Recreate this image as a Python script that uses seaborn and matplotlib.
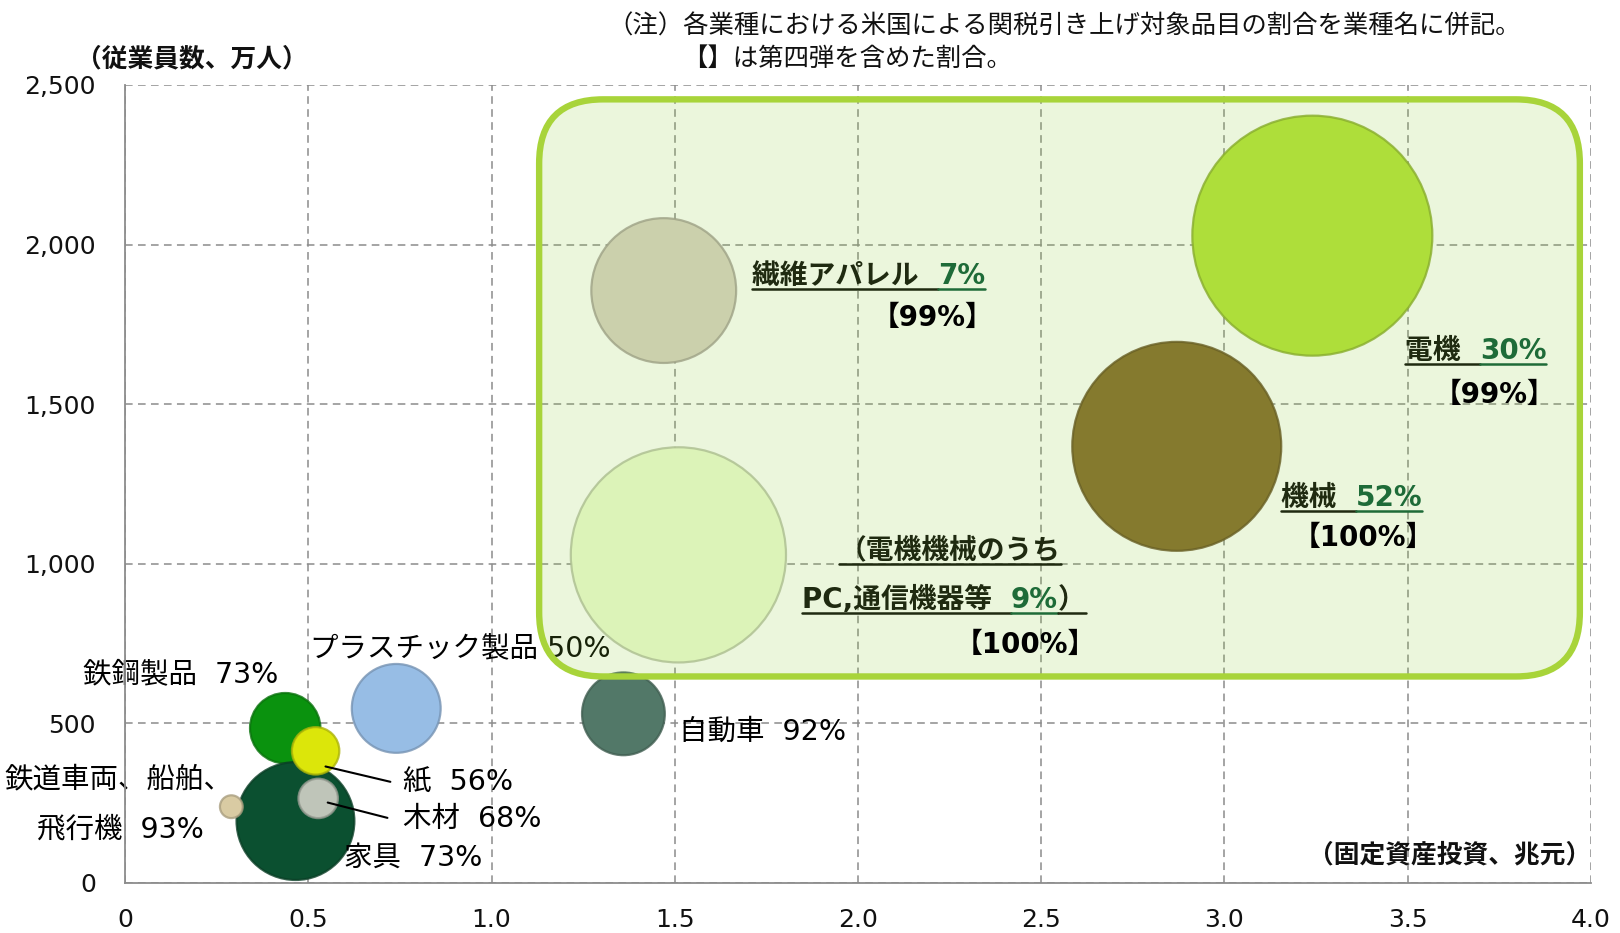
import numpy as np
import pandas as pd
import matplotlib
matplotlib.use("Agg")
import matplotlib.pyplot as plt
import matplotlib.colors as mcolors
import seaborn as sns
from matplotlib.patches import FancyBboxPatch
from matplotlib.lines import Line2D
from matplotlib.transforms import IdentityTransform

# ---------------- data ----------------
industries = ["電機", "機械", "繊維アパレル", "PC,通信機器等",
              "自動車", "プラスチック製品", "鉄鋼製品", "家具", "紙", "木材", "鉄道車両、船舶、飛行機"]
fixed_investment = [3.24, 2.87, 1.47, 1.51, 1.36, 0.74, 0.437, 0.465, 0.52, 0.527, 0.29]   # 兆元
employees = [2028, 1368, 1856, 1028, 530, 547, 485, 194, 414, 265, 239]                   # 万人
bubble_size = [100, 75.8, 36.4, 80.4, 11.9, 13.7, 8.6, 24.1, 3.9, 2.7, 0.9]
highlighted = [True, True, True, True, False, False, False, False, False, False, False]
bubble_colors = ["#AEDE3A", "#857A2E", "#CBD0AC", "#DCF3B8", "#527868", "#97BDE5",
                 "#0A920E", "#0B5030", "#DCE60A", "#BFC5B9", "#D9CBA3"]

x_ticks = [0, 0.5, 1.0, 1.5, 2.0, 2.5, 3.0, 3.5, 4.0]
x_tick_labels = ["0", "0.5", "1.0", "1.5", "2.0", "2.5", "3.0", "3.5", "4.0"]
y_ticks = [0, 500, 1000, 1500, 2000, 2500]
y_tick_labels = ["0", "500", "1,000", "1,500", "2,000", "2,500"]

df = pd.DataFrame({"industry": industries, "x": fixed_investment, "y": employees,
                   "size": bubble_size, "hl": highlighted})
palette = dict(zip(industries, bubble_colors))

# ---------------- figure ----------------
sns.set_theme(style="white")
plt.rcParams["font.family"] = ["DejaVu Sans", "Noto Sans CJK JP"]

fig = plt.figure(figsize=(16.2, 9.33), dpi=100)
ax = fig.add_axes([0.0772, 0.0536, 0.9048, 0.8553])
ax.set_xlim(0, 4.0)
ax.set_ylim(0, 2500)

SMAX = 29860

def draw_bubbles(sub, z):
    sns.scatterplot(data=sub, x="x", y="y", hue="industry", palette=palette,
                    size="size", sizes=(0, SMAX), size_norm=(0, 100),
                    legend=False, ax=ax, zorder=z, linewidth=1.6)
    coll = ax.collections[-1]
    edges = []
    for ind in sub["industry"]:
        r, g, b = mcolors.to_rgb(palette[ind])
        edges.append((r * 0.78, g * 0.78, b * 0.78, 0.8))
    coll.set_edgecolors(edges)

draw_bubbles(df[~df["hl"]], 2)
draw_bubbles(df[df["hl"]], 3)

# grid / axes styling
ax.set_axisbelow(True)
ax.grid(True, color="#8C8C8C", linestyle=(0, (5, 3.5)), linewidth=1.1)
ax.set_xticks(x_ticks)
ax.set_xticklabels(x_tick_labels)
ax.set_yticks(y_ticks)
ax.set_yticklabels(y_tick_labels)
ax.tick_params(axis="both", which="major", direction="out", length=7, width=1.2,
               color="#8C8C8C", labelsize=18, labelcolor="#111111")
ax.tick_params(axis="x", pad=11)
ax.tick_params(axis="y", pad=14)
for s in ["top", "right"]:
    ax.spines[s].set_visible(False)
for s in ["left", "bottom"]:
    ax.spines[s].set_color("#8C8C8C")
    ax.spines[s].set_linewidth(1.3)
ax.set_xlabel("")
ax.set_ylabel("")

# highlighted rounded box
bw = ax.get_window_extent().width
bh = ax.get_window_extent().height
px_per_x = bw / 4.0
px_per_y = bh / 2500.0
box = FancyBboxPatch((1.13, 647), 3.97 - 1.13, 2455 - 647,
                     boxstyle="round,pad=0,rounding_size=%f" % (64 / px_per_x),
                     mutation_aspect=px_per_x / px_per_y,
                     facecolor=(0.55, 0.80, 0.20, 0.17), edgecolor="#A8D43A",
                     linewidth=4.6, zorder=2.5)
ax.add_patch(box)

# ---------------- labels ----------------
NORMAL = 20.5
BOLD = 20
plain_labels = [
    ("自動車  92%", 1.511, 475, "left"),
    ("プラスチック製品 50%", 0.505, 734, "left"),
    ("鉄鋼製品  73%", -0.116, 653, "left"),
    ("家具  73%", 0.598, 78, "left"),
    ("紙  56%", 0.758, 317, "left"),
    ("木材  68%", 0.758, 200, "left"),
    ("鉄道車両、船舶、", -0.017, 323, "center"),
    ("飛行機  93%", -0.012, 168, "center"),
]
for txt, x, y, ha in plain_labels:
    ax.text(x, y, txt, fontsize=NORMAL, ha=ha, va="center", color="#000000",
            zorder=2.2, clip_on=False)

# leader lines
ax.plot([0.547, 0.724], [365, 317], color="#000000", lw=1.5, zorder=3.5)
ax.plot([0.553, 0.716], [252, 204], color="#000000", lw=1.5, zorder=3.5)

DARK = "#1F2A10"
GREEN = "#1E6B38"
underlines = []

def two_tone(x, y, name, pct, tail=None):
    t1 = ax.text(x, y, name, fontsize=BOLD, fontweight="bold", color=DARK,
                 ha="left", va="center", zorder=4)
    t2 = ax.annotate(pct, xy=(1, 0), xycoords=t1, fontsize=BOLD, fontweight="bold",
                     color=GREEN, ha="left", va="bottom", zorder=4)
    underlines.append((t1, DARK))
    underlines.append((t2, GREEN))
    if tail:
        t3 = ax.annotate(tail, xy=(1, 0), xycoords=t2, fontsize=BOLD, fontweight="bold",
                         color=DARK, ha="left", va="bottom", zorder=4)
        underlines.append((t3, DARK))

two_tone(1.711, 1902, "繊維アパレル  ", "7%")
two_tone(3.493, 1666, "電機  ", "30%")
two_tone(3.154, 1206, "機械  ", "52%")
t_pc1 = ax.text(1.948, 1041, "（電機機械のうち", fontsize=BOLD, fontweight="bold",
                color=DARK, ha="left", va="center", zorder=4)
underlines.append((t_pc1, DARK))
two_tone(1.846, 886, "PC,通信機器等  ", "9%", "）")

for txt, x, y in [("【99%】", 2.204, 1769), ("【99%】", 3.738, 1530),
                  ("【100%】", 3.380, 1080), ("【100%】", 2.458, 747)]:
    ax.text(x, y, txt, fontsize=BOLD, fontweight="bold", color="#000000",
            ha="center", va="center", zorder=4)

# axis titles and note
fig.text(0.1185, 0.9368, "（従業員数、万人）", fontsize=18.5, fontweight="bold",
         ha="center", va="center", color="#111111")
fig.text(0.982, 0.0836, "（固定資産投資、兆元）", fontsize=18.5, fontweight="bold",
         ha="right", va="center", color="#111111")
fig.text(0.375, 0.972, "（注）各業種における米国による関税引き上げ対象品目の割合を業種名に併記。",
         fontsize=18.3, ha="left", va="center", color="#111111")
fig.text(0.421, 0.937, "【】は第四弾を含めた割合。",
         fontsize=18.3, ha="left", va="center", color="#111111")

# underlines
fig.canvas.draw()
renderer = fig.canvas.get_renderer()
for t, c in underlines:
    bb = t.get_window_extent(renderer)
    y0 = bb.y0 + 1
    fig.add_artist(Line2D([bb.x0, bb.x1], [y0, y0], transform=IdentityTransform(),
                          color=c, lw=1.8, zorder=5))

fig.savefig("out.png", dpi=100)
